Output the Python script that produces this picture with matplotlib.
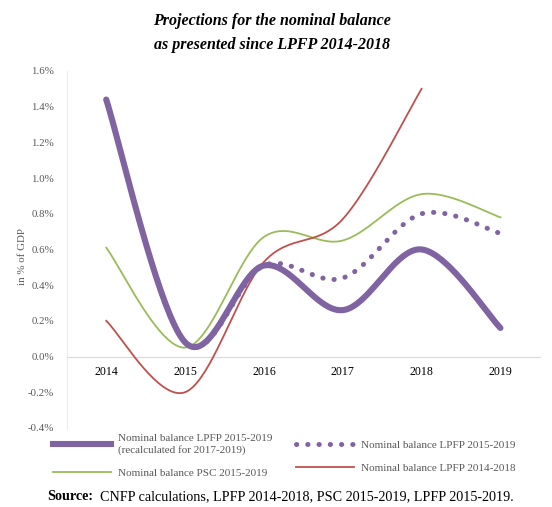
import numpy as np
import matplotlib
matplotlib.use('Agg')
import matplotlib.pyplot as plt
from matplotlib.lines import Line2D

plt.rcParams['font.family'] = ['Liberation Serif', 'DejaVu Serif']

years = ['2014', '2015', '2016', '2017', '2018', '2019']
# values in % of GDP
lpfp15_recalc = [1.44, 0.08, 0.51, 0.26, 0.60, 0.16]
lpfp15 = [1.44, 0.08, 0.51, 0.44, 0.80, 0.69]
psc15 = [0.61, 0.05, 0.67, 0.65, 0.91, 0.78]
lpfp14 = [0.20, -0.20, 0.53, 0.77, 1.50, np.nan]
y_ticks = [-0.4, -0.2, 0.0, 0.2, 0.4, 0.6, 0.8, 1.0, 1.2, 1.4, 1.6]

PURPLE = '#8064A2'
GREEN = '#9BBB59'
RED = '#C0504D'
GREY = '#595959'


def smooth(values, n=40):
    # excel-like smoothed line (bezier through the points)
    y = np.asarray(values, dtype=float)
    ok = ~np.isnan(y)
    x = np.arange(len(y))[ok]
    y = y[ok]
    pts = np.column_stack([x, y])
    out = []
    for i in range(len(pts) - 1):
        p0 = pts[max(i - 1, 0)]
        p1 = pts[i]
        p2 = pts[i + 1]
        p3 = pts[min(i + 2, len(pts) - 1)]
        c1 = p1 + (p2 - p0) / 6
        c2 = p2 - (p3 - p1) / 6
        t = np.linspace(0, 1, n)[:, None]
        seg = ((1 - t) ** 3) * p1 + 3 * ((1 - t) ** 2) * t * c1 + 3 * (1 - t) * t ** 2 * c2 + t ** 3 * p2
        out.append(seg if i == 0 else seg[1:])
    seg = np.vstack(out)
    return seg[:, 0], seg[:, 1]


fig = plt.figure(figsize=(5.52, 5.07), dpi=100)
ax = fig.add_axes([0.121, 0.156, 0.857, 0.704])

dotted = (0, (0.05, 2.2))
ax.plot(*smooth(lpfp15), color=PURPLE, lw=3.6, ls=dotted, dash_capstyle='round', zorder=2)
ax.plot(*smooth(psc15), color=GREEN, lw=1.3, zorder=3)
ax.plot(*smooth(lpfp14), color=RED, lw=1.3, zorder=3)
ax.plot(*smooth(lpfp15_recalc), color=PURPLE, lw=4.4, solid_capstyle='round', zorder=4)

ax.set_xlim(-0.5, len(years) - 0.5)
ax.set_ylim(-0.4, 1.6)
ax.set_yticks(y_ticks)
ax.set_yticklabels([f'{v:.1f}%' for v in y_ticks], color=GREY)
ax.set_xticks(range(len(years)))
ax.set_xticklabels(years, color=GREY)
ax.tick_params(axis='y', length=0, pad=9, labelsize=7.8)
ax.tick_params(axis='x', length=0, pad=7, labelsize=8.6)

for s in ['top', 'right']:
    ax.spines[s].set_visible(False)
ax.spines['bottom'].set_position(('data', 0))
ax.spines['bottom'].set_color('#d9d9d9')
ax.spines['left'].set_color('#ececec')
ax.set_ylabel('in % of GDP', fontsize=7.8, color=GREY)
ax.yaxis.set_label_coords(-0.085, 0.48)

fig.text(0.493, 0.935, 'Projections for the nominal balance\nas presented since LPFP 2014-2018',
         ha='center', va='center', fontsize=11.5, fontweight='bold', style='italic',
         linespacing=1.6)

handles = [
    Line2D([], [], color=PURPLE, lw=4.4),
    Line2D([], [], color=GREEN, lw=1.3),
    Line2D([], [], color=PURPLE, lw=3.6, ls=dotted, dash_capstyle='round'),
    Line2D([], [], color=RED, lw=1.3),
]
labels = [
    'Nominal balance LPFP 2015-2019\n(recalculated for 2017-2019)',
    'Nominal balance PSC 2015-2019',
    'Nominal balance LPFP 2015-2019',
    'Nominal balance LPFP 2014-2018',
]
fig.legend(handles, labels, ncol=2, loc='center', bbox_to_anchor=(0.515, 0.1),
           frameon=False, fontsize=8, labelcolor=GREY, handlelength=5.2,
           columnspacing=2.2, labelspacing=1.2, handletextpad=0.6)

fig.text(0.085, 0.02, 'Source:', fontsize=10.2, fontweight='bold', ha='left', va='center')
fig.text(0.181, 0.02, 'CNFP calculations, LPFP 2014-2018, PSC 2015-2019, LPFP 2015-2019.',
         fontsize=10.2, ha='left', va='center')

fig.savefig('out.png', dpi=100)
